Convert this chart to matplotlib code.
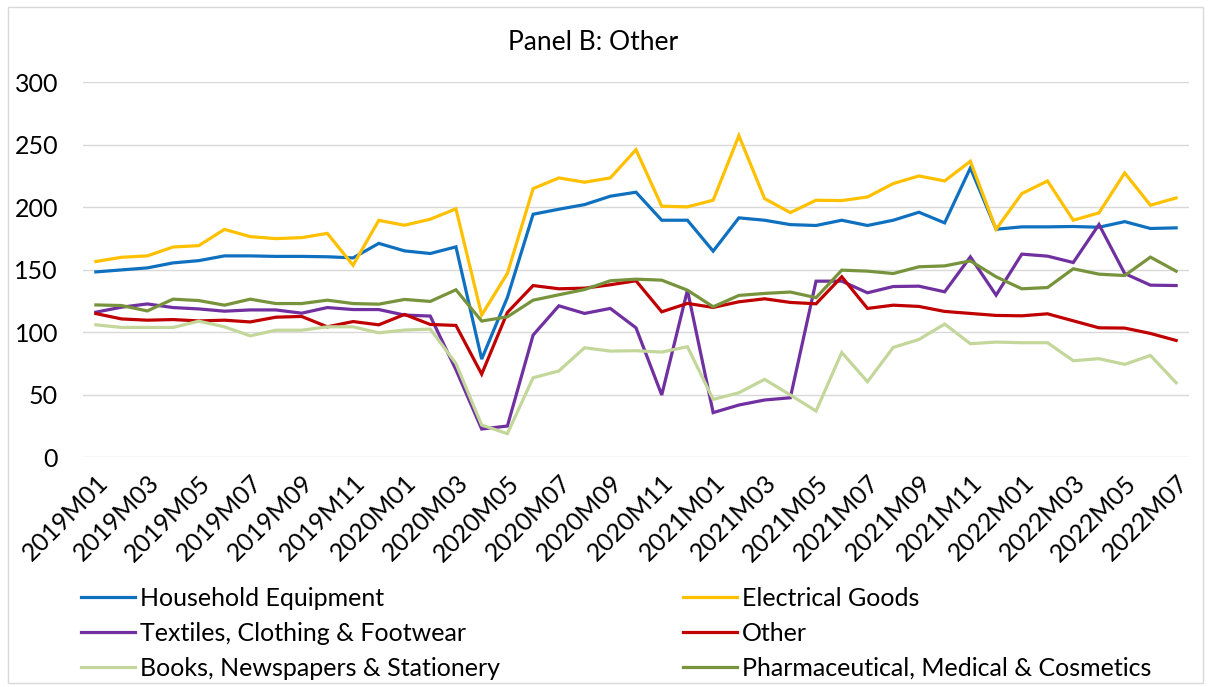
import matplotlib
matplotlib.use("Agg")
import matplotlib.pyplot as plt
from matplotlib.patches import Rectangle

plt.rcParams['font.family'] = ['Lato', 'DejaVu Sans']

months = [f"{y}M{m:02d}" for y in (2019, 2020, 2021, 2022) for m in range(1, 13)][:43]

household = [148.2, 149.8, 151.4, 155.4, 157.2, 161, 161, 160.6, 160.6, 160.3, 159.4, 171,
             165, 162.9, 168.2, 78.5, 127.8, 194.3, 198.3, 202, 208.7, 211.9,
             189.5, 189.5, 164.8, 191.4, 189.5, 186, 185.3, 189.5, 185.3, 189.5, 195.9,
             187.4, 231.3, 182.3, 184.2, 184.2, 184.5, 183.9, 188.4, 182.9, 183.4]
electrical = [156.5, 159.9, 161, 168.1, 169.2, 182.2, 176.4, 174.8, 175.6, 179, 153.5, 189.4,
              185.5, 190.3, 198.6, 113.7, 147, 214.8, 223.3, 219.9, 223.3, 245.9,
              200.7, 200.2, 205.5, 257.1, 206.8, 195.6, 205.5, 205.2, 208.1, 218.8, 224.9,
              220.9, 236.6, 182.3, 210.8, 220.9, 189.5, 195.4, 227.3, 201.5, 207.3]
textiles = [116, 120, 122.6, 119.7, 118.6, 116.8, 117.8, 117.8, 115.2, 119.7, 118.1, 118.1,
            113.7, 112.9, 70, 22.6, 25, 97.7, 121.1, 115, 119, 103.5,
            49.8, 133.6, 35.7, 41.8, 45.8, 47.6, 140.8, 140.8, 131.5, 136.5, 136.8,
            132.3, 160.2, 129.6, 162.4, 160.8, 155.7, 186.1, 146.9, 137.6, 137.3]
other = [114.9, 110.6, 109.6, 110.1, 109, 109.6, 108.2, 112, 112.6, 104.3, 108.5, 105.9,
         114.2, 106.2, 105.4, 66.5, 115.8, 137.3, 134.7, 135.2, 137.9, 141.1,
         116.3, 123, 119.8, 124.3, 126.7, 123.8, 122.7, 144.3, 119, 121.6, 120.6,
         116.6, 115, 113.4, 113.1, 114.7, 109.1, 103.5, 103.3, 99, 93.4]
books = [105.9, 103.8, 103.8, 103.8, 108.8, 104.3, 97.1, 101.6, 101.6, 104.3, 104.3, 99.5,
         101.7, 102.5, 75, 25.8, 18.9, 63.6, 69, 87.6, 84.9, 85.2,
         84.1, 88.4, 46.3, 51.6, 62.3, 49.8, 37, 83.8, 60.4, 87.8, 94.2,
         106.5, 90.8, 92.1, 91.6, 91.6, 77.2, 78.8, 74.3, 81.4, 59.6]
pharma = [121.8, 121.3, 117, 126.4, 125.3, 121.6, 126.4, 122.9, 122.9, 125.6, 122.9, 122.4,
          126.2, 124.6, 133.9, 108.9, 112.3, 125.6, 129.9, 134.1, 141.1, 142.4,
          141.6, 133.6, 120.3, 129.4, 131, 132.1, 127.6, 149.6, 148.8, 146.9, 152.3,
          153, 157, 144.3, 134.7, 135.7, 150.7, 146.4, 145.3, 160, 148.8]

series_names = ["Household Equipment", "Electrical Goods", "Textiles, Clothing & Footwear",
                "Other", "Books, Newspapers & Stationery", "Pharmaceutical, Medical & Cosmetics"]
series_values = [household, electrical, textiles, other, books, pharma]
colors = ["#0F70C0", "#FFC000", "#7030A0", "#C00000", "#C4D79B", "#77933C"]

W, H = 1211, 687
fig = plt.figure(figsize=(W / 100, H / 100), dpi=100)
fig.patches.append(Rectangle((8 / W, 4 / H), 1195 / W, 676 / H, transform=fig.transFigure,
                             fill=False, edgecolor="#D9D9D9", linewidth=1))

ax = fig.add_axes([83 / W, 1 - 457.3 / H, (1189 - 83) / W, (457.3 - 82) / H])
x = list(range(len(months)))
lines = []
for name, vals, c in zip(series_names, series_values, colors):
    ln, = ax.plot(x, vals, color=c, linewidth=2.3, label=name, solid_joinstyle='miter')
    lines.append(ln)

ax.set_xlim(-0.5, len(months) - 0.5)
ax.set_ylim(0, 300)
ax.set_yticks(range(0, 301, 50))
ax.grid(axis='y', color="#D9D9D9", linewidth=1)
ax.set_axisbelow(True)
for s in ax.spines.values():
    s.set_visible(False)
ax.tick_params(axis='y', length=0, labelsize=18, colors='black', pad=18)
ax.set_xticks(x[::2])
ax.set_xticklabels(months[::2], rotation=45, ha='right', va='top', rotation_mode='anchor')
ax.tick_params(axis='x', length=0, labelsize=18, colors='black', pad=10)

fig.text(593 / W, 1 - 42 / H, "Panel B: Other", ha='center', va='center', fontsize=19)

leg_kw = dict(frameon=False, fontsize=18, handlelength=2.15, handletextpad=0.2,
              labelspacing=0.48, borderaxespad=0, borderpad=0)
leg1 = fig.legend([lines[0], lines[2], lines[4]], [series_names[0], series_names[2], series_names[4]],
                  loc='upper left', bbox_to_anchor=(81 / W, 1 - 587 / H), **leg_kw)
leg2 = fig.legend([lines[1], lines[3], lines[5]], [series_names[1], series_names[3], series_names[5]],
                  loc='upper left', bbox_to_anchor=(683 / W, 1 - 587 / H), **leg_kw)

fig.savefig("out.png", dpi=100)
